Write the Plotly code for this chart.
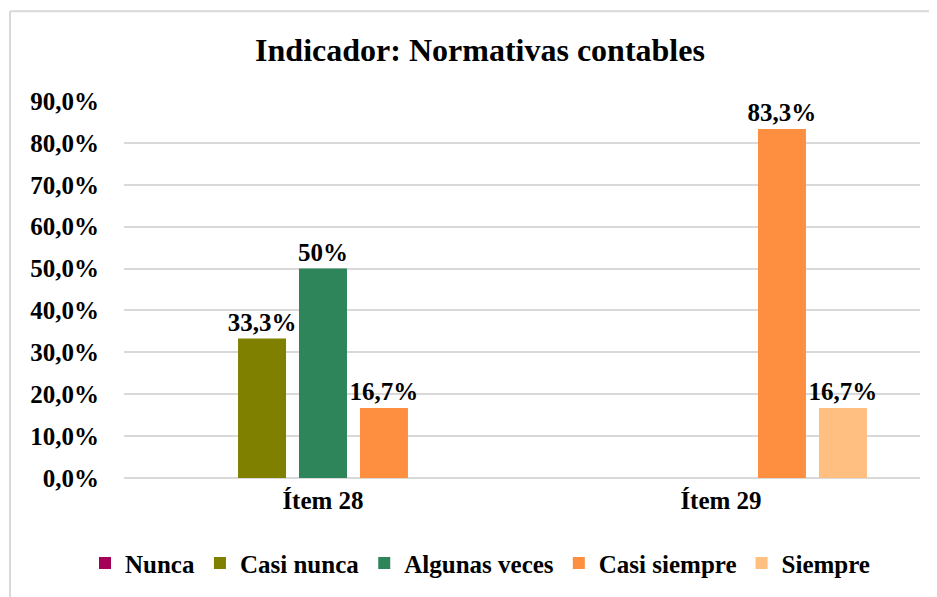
import plotly.graph_objects as go

categories = ["Ítem 28", "Ítem 29"]
series_names = ["Nunca", "Casi nunca", "Algunas veces", "Casi siempre", "Siempre"]
nunca = [0, 0]
casi_nunca = [33.3, 0]
algunas_veces = [50, 0]
casi_siempre = [16.7, 83.3]
siempre = [0, 16.7]
value_labels = {
    "Nunca": ["", ""],
    "Casi nunca": ["33,3%", ""],
    "Algunas veces": ["50%", ""],
    "Casi siempre": ["16,7%", "83,3%"],
    "Siempre": ["", "16,7%"],
}
y_ticks = [0, 10, 20, 30, 40, 50, 60, 70, 80, 90]
y_tick_labels = ["0,0%", "10,0%", "20,0%", "30,0%", "40,0%", "50,0%",
                 "60,0%", "70,0%", "80,0%", "90,0%"]

colors = ["#A50057", "#808000", "#2E8559", "#FF8F40", "#FFBF80"]
values = [nunca, casi_nunca, algunas_veces, casi_siempre, siempre]

FONT = "Liberation Serif"
BOLD = "bold"
FS = 25

fig = go.Figure()
for name, vals, col in zip(series_names, values, colors):
    fig.add_trace(go.Bar(
        name=name, x=categories, y=vals,
        marker=dict(color=col, line=dict(width=0)),
        text=value_labels[name], textposition="outside",
        constraintext="none",
        textfont=dict(family=FONT, size=FS, color="black", weight=BOLD),
        cliponaxis=False,
    ))

OFF = 8  # page body margin
W, H = 937 - OFF, 597 - OFF
L = 124 - OFF
R = 17
T = 100.7 - OFF
B = 119.3
pw = W - L - R
ph = H - T - B

def px_x(x):
    return (x - OFF - L) / pw

def px_y(y):
    return (H - B - (y - OFF)) / ph

fig.update_layout(
    width=W, height=H,
    margin=dict(l=L, r=R, t=T, b=B, autoexpand=False),
    paper_bgcolor="white", plot_bgcolor="white",
    barmode="group", bargap=0.234, bargroupgap=0.213,
    separators=",.",
    font=dict(family=FONT, size=FS, color="black", weight=BOLD),
    title=dict(text="Indicador: Normativas contables",
               x=(480 - OFF) / W, xanchor="center", xref="container",
               y=1 - (50 - OFF) / H, yanchor="middle", yref="container",
               font=dict(family=FONT, size=32, color="black", weight=BOLD)),
    showlegend=True,
    legend=dict(orientation="h", x=(480 - OFF) / W, xanchor="center", xref="container",
                y=px_y(563), yanchor="middle",
                font=dict(family=FONT, size=FS, color="black", weight=BOLD),
                itemwidth=30, traceorder="normal", tracegroupgap=0),
    xaxis=dict(showgrid=False, showline=False, zeroline=False, ticks="",
               tickfont=dict(family=FONT, size=FS, color="black", weight=BOLD),
               ticklabelstandoff=5),
    yaxis=dict(range=[0, 90], tickvals=y_ticks, ticktext=y_tick_labels,
               showgrid=True, gridcolor="#d9d9d9", gridwidth=2,
               zeroline=True, zerolinecolor="#d9d9d9", zerolinewidth=2,
               showline=False, ticks="",
               tickfont=dict(family=FONT, size=FS, color="black", weight=BOLD),
               ticklabelstandoff=24),
    shapes=[
        dict(type="line", xref="paper", yref="paper",
             x0=px_x(10), x1=px_x(10), y0=px_y(11), y1=px_y(600),
             line=dict(color="#d9d9d9", width=2)),
        dict(type="line", xref="paper", yref="paper",
             x0=px_x(10), x1=px_x(940), y0=px_y(11), y1=px_y(11),
             line=dict(color="#d9d9d9", width=2)),
    ],
)

fig.write_html("out.html")
